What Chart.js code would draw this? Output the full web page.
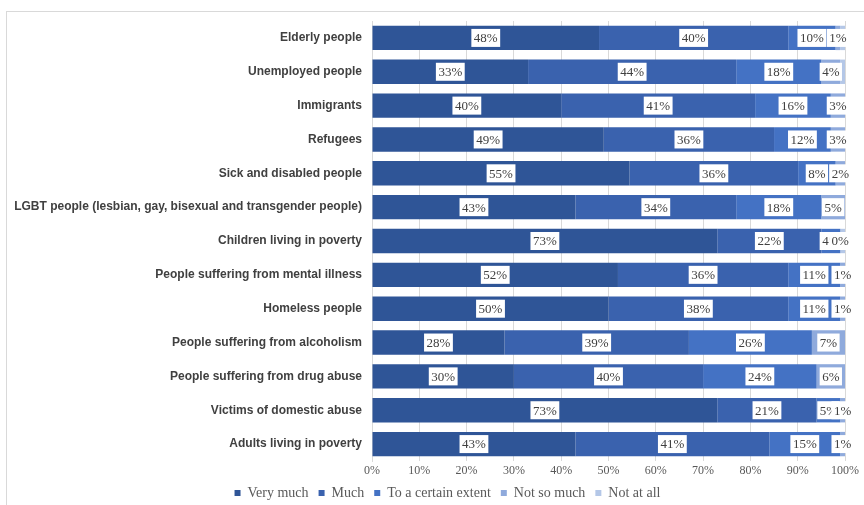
<!DOCTYPE html>
<html>
<head>
<meta charset="utf-8">
<script src="https://cdn.jsdelivr.net/npm/chart.js@4/dist/chart.umd.min.js"></script>
<style>
  html, body { margin: 0; padding: 0; background: #fff; overflow: hidden; }
  #wrap { position: relative; width: 864px; height: 505px; }
  #frame { position: absolute; left: 6px; top: 11px; width: 870px; height: 510px; border: 1px solid #d9d9d9; box-sizing: border-box; }
  canvas { position: absolute; left: 0; top: 0; }
</style>
</head>
<body>
<div id="wrap">
  <div id="frame"></div>
  <canvas id="chart" width="864" height="505"></canvas>
</div>
<script>
const categories = [
  'Elderly people',
  'Unemployed people',
  'Immigrants',
  'Refugees',
  'Sick and disabled people',
  'LGBT people (lesbian, gay, bisexual and transgender people)',
  'Children living in poverty',
  'People suffering from mental illness',
  'Homeless people',
  'People suffering from alcoholism',
  'People suffering from drug abuse',
  'Victims of domestic abuse',
  'Adults living in poverty'
];
const veryMuch = [48, 33, 40, 49, 55, 43, 73, 52, 50, 28, 30, 73, 43];
const much = [40, 44, 41, 36, 36, 34, 22, 36, 38, 39, 40, 21, 41];
const certainExtent = [10, 18, 16, 12, 8, 18, 4, 11, 11, 26, 24, 5, 15];
const notSoMuch = [1, 4, 3, 3, 2, 5, 0, 1, 1, 7, 6, 1, 1];
const notAtAll = [1, 1, 0, 0, 0, 0, 1, 0, 0, 0, 0, 0, 0];
const xTicks = ['0%', '10%', '20%', '30%', '40%', '50%', '60%', '70%', '80%', '90%', '100%'];

const seriesNames = ['Very much', 'Much', 'To a certain extent', 'Not so much', 'Not at all'];
const seriesValues = [veryMuch, much, certainExtent, notSoMuch, notAtAll];
const seriesColors = ['#2f5597', '#3a62ae', '#4472c4', '#8faadc', '#b4c7e7'];
const showLabels = [true, true, true, true, false];

// 100% stacked: each row scaled to its total
const totals = categories.map((c, i) => seriesValues.reduce((s, arr) => s + arr[i], 0));

const labelPlugin = {
  id: 'boxLabels',
  afterLayout(chart) {
    // centre the legend under the plot like the original
    if (chart.legend) chart.legend.left += 40;
  },
  afterDatasetsDraw(chart) {
    const ctx = chart.ctx;
    ctx.save();
    ctx.font = '13px "Liberation Serif", "Times New Roman", serif';
    ctx.textAlign = 'center';
    ctx.textBaseline = 'middle';
    chart.data.datasets.forEach((ds, di) => {
      if (!showLabels[di]) return;
      const meta = chart.getDatasetMeta(di);
      meta.data.forEach((bar, i) => {
        const txt = seriesValues[di][i] + '%';
        const cx = (bar.x + bar.base) / 2;
        const cy = bar.y;
        const w = ctx.measureText(txt).width + 5;
        ctx.fillStyle = '#ffffff';
        ctx.fillRect(cx - w / 2, cy - 9, w, 18);
        ctx.fillStyle = '#404040';
        ctx.fillText(txt, cx, cy + 1);
      });
    });
    ctx.restore();
  }
};

new Chart(document.getElementById('chart'), {
  type: 'bar',
  data: {
    labels: categories,
    datasets: seriesNames.map((name, k) => ({
      label: name,
      data: seriesValues[k].map((v, i) => v / totals[i] * 100),
      backgroundColor: seriesColors[k],
      borderWidth: 0,
      categoryPercentage: 0.8,
      barPercentage: 0.9
    }))
  },
  options: {
    indexAxis: 'y',
    responsive: false,
    animation: false,
    layout: { padding: { top: 21, right: 19, bottom: -5, left: 10 } },
    scales: {
      x: {
        stacked: true,
        min: 0,
        max: 100,
        ticks: {
          stepSize: 10,
          color: '#595959',
          font: { family: '"Liberation Serif", "Times New Roman", serif', size: 12 },
          padding: 3,
          callback: (v, i) => xTicks[i]
        },
        grid: { color: '#d9d9d9', drawTicks: false },
        border: { display: false },
        afterFit(scale) { scale.height = 15; }
      },
      y: {
        stacked: true,
        ticks: {
          color: '#404040',
          font: { family: '"Liberation Sans", Arial, sans-serif', size: 12, weight: 'bold' },
          padding: 10
        },
        grid: { display: false, drawTicks: false },
        border: { color: '#d9d9d9' },
        afterFit(scale) { scale.width = 362; }
      }
    },
    plugins: {
      legend: {
        position: 'bottom',
        labels: {
          color: '#595959',
          font: { family: '"Liberation Serif", "Times New Roman", serif', size: 14 },
          boxWidth: 6,
          boxHeight: 6,
          padding: 10
        }
      },
      tooltip: { enabled: false }
    }
  },
  plugins: [labelPlugin]
});
</script>
</body>
</html>
